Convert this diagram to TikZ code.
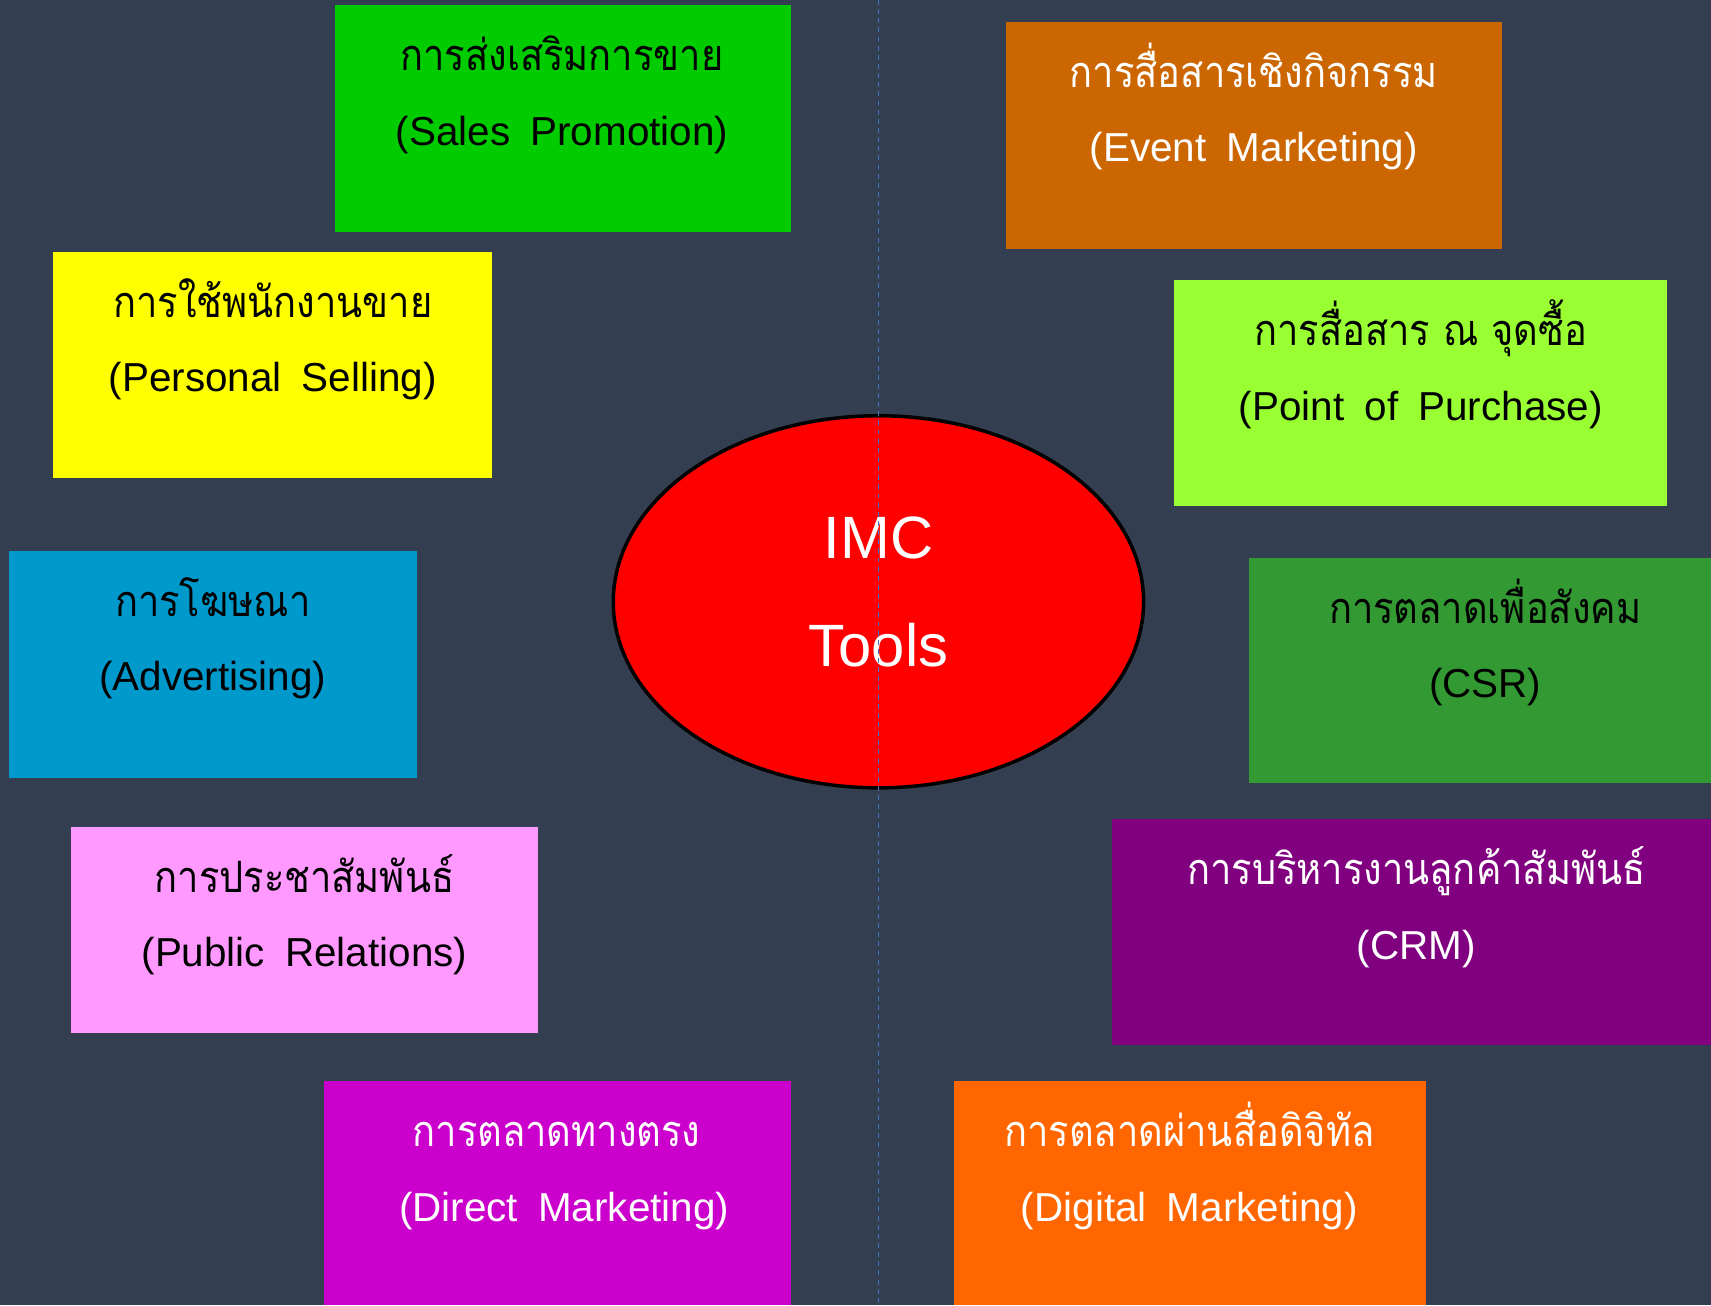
\documentclass[tikz,border=0pt]{standalone}
\usepackage{fontspec}
\setmainfont{Liberation Sans}[WordSpace=1.8]
\newfontfamily\thaifont[Script=Thai,FakeStretch=0.88]{Loma}
\usetikzlibrary{fit,shapes.geometric}
\definecolor{bgc}{HTML}{333F50}
\definecolor{cSP}{HTML}{00CC00}
\definecolor{cEV}{HTML}{CC6600}
\definecolor{cPS}{HTML}{FFFF00}
\definecolor{cPOP}{HTML}{99FF33}
\definecolor{cAD}{HTML}{0099CC}
\definecolor{cCSR}{HTML}{339933}
\definecolor{cPR}{HTML}{FF99FF}
\definecolor{cCRM}{HTML}{800080}
\definecolor{cDM}{HTML}{CC00CC}
\definecolor{cDG}{HTML}{FF6600}
\definecolor{dashc}{HTML}{4472C4}
\begin{document}
\begin{tikzpicture}[x=0.010912cm,y=-0.010912cm,
  card/.style={rectangle,draw=none,inner sep=0pt,outer sep=0pt},
  th/.style={anchor=base,inner sep=0pt,font=\thaifont\fontsize{12.3}{14}\selectfont},
  en/.style={anchor=base,inner sep=0pt,font=\fontsize{11.5}{14}\selectfont},
  big/.style={anchor=base,inner sep=0pt,text=white,font=\fontsize{17}{20}\selectfont},
]
\fill[bgc] (0,0) rectangle (1568,1196);
\useasboundingbox (0,0) rectangle (1568,1196);

% boxes
\node[card,fill=cSP,fit={(307,5)(725,213)}] (sp) {};
\node[card,fill=cEV,fit={(922,20)(1376,228)}] (ev) {};
\node[card,fill=cPS,fit={(49,231)(451,438)}] (ps) {};
\node[card,fill=cPOP,fit={(1076,257)(1528,464)}] (pop) {};
\node[card,fill=cAD,fit={(8,505)(382,713)}] (ad) {};
\node[card,fill=cCSR,fit={(1145,511)(1568,718)}] (csr) {};
\node[card,fill=cPR,fit={(65,758)(493,947)}] (pr) {};
\node[card,fill=cCRM,fit={(1019,751)(1568,958)}] (crm) {};
\node[card,fill=cDM,fit={(297,991)(725,1196)}] (dm) {};
\node[card,fill=cDG,fit={(874,991)(1307,1196)}] (dg) {};

% texts
\node[th,text=black] (sp-t) at (515,65) {การส่งเสริมการขาย};
\node[en,text=black] (sp-e) at (515,133) {(Sales Promotion)};
\node[th,text=white] (ev-t) at (1149,80) {การสื่อสารเชิงกิจกรรม};
\node[en,text=white] (ev-e) at (1149,148) {(Event Marketing)};
\node[th,text=black] (ps-t) at (250,291) {การใช้พนักงานขาย};
\node[en,text=black] (ps-e) at (250,359) {(Personal Selling)};
\node[th,text=black] (pop-t) at (1302,317) {การสื่อสาร ณ จุดซื้อ};
\node[en,text=black] (pop-e) at (1302,385) {(Point of Purchase)};
\node[th,text=black] (ad-t) at (195,565) {การโฆษณา};
\node[en,text=black] (ad-e) at (195,633) {(Advertising)};
\node[th,text=black] (csr-t) at (1361,571) {การตลาดเพื่อสังคม};
\node[en,text=black] (csr-e) at (1361,639) {(CSR)};
\node[th,text=black] (pr-t) at (279,818) {การประชาสัมพันธ์};
\node[en,text=black] (pr-e) at (279,886) {(Public Relations)};
\node[th,text=white] (crm-t) at (1298,811) {การบริหารงานลูกค้าสัมพันธ์};
\node[en,text=white] (crm-e) at (1298,879) {(CRM)};
\node[th,text=white] (dm-t) at (510,1051) {การตลาดทางตรง};
\node[en,text=white] (dm-e) at (517,1119) {(Direct Marketing)};
\node[th,text=white] (dg-t) at (1090,1051) {การตลาดผ่านสื่อดิจิทัล};
\node[en,text=white] (dg-e) at (1090,1119) {(Digital Marketing)};

% centre ellipse
\draw[fill=red,draw=black,line width=1pt] (805,551.5) ellipse [x radius=243,y radius=170.5];
\coordinate (imc) at (805,551.5);
\node[big] (imc-1) at (805,512) {IMC};
\node[big] (imc-2) at (805,611) {Tools};

% dashed guide
\coordinate (ltop) at (805,0);
\coordinate (lbot) at (805,1196);
\draw[dashc,line width=0.4pt,dash pattern=on 1.4pt off 1.2pt] (ltop) -- (lbot);
\end{tikzpicture}
\end{document}
